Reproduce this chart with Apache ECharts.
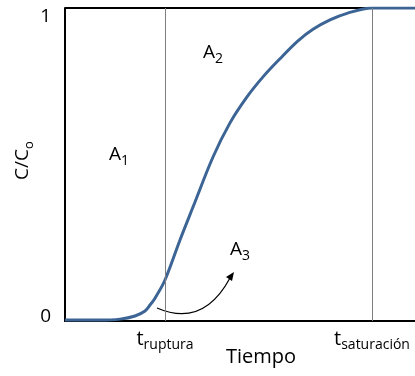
<!DOCTYPE html>
<html>
<head>
<meta charset="utf-8">
<script src="https://cdn.jsdelivr.net/npm/echarts@6/dist/echarts.min.js"></script>
<style>html,body{margin:0;padding:0;background:#fff}#c{width:415px;height:376px}</style>
</head>
<body>
<div id="c"></div>
<script>
// Time (arbitrary units) and normalized concentration C/Co
var timeValues = [0, 35, 55, 70, 80, 85, 90, 100, 115, 128, 148, 165, 182, 198, 215, 233, 248, 265, 282, 307, 350];
var concValues = [0.003, 0.003, 0.006, 0.016, 0.032, 0.051, 0.073, 0.131, 0.259, 0.364, 0.524, 0.633, 0.716, 0.780, 0.838, 0.895, 0.932, 0.962, 0.983, 1.0, 1.0];
var markTimes = [100, 307];                 // t_ruptura, t_saturación
var markLabels = [['t', 'ruptura'], ['t', 'saturación']];
var yTickLabels = ['0', '1'];
var xName = 'Tiempo';
var yName = ['C/C', 'o'];
var areaLabels = [['A', '1'], ['A', '2'], ['A', '3']];

var FONT = 'Open Sans';
var chart = echarts.init(document.getElementById('c'));
var seriesData = timeValues.map(function (t, i) { return [t, concValues[i]]; });

function subRich(main, sub, drop) {
  return {
    m: { fontSize: main, fontFamily: FONT, color: '#000', fill: '#000', verticalAlign: 'bottom', padding: [0, 0, drop, 0] },
    s: { fontSize: sub, fontFamily: FONT, color: '#000', fill: '#000', verticalAlign: 'bottom' }
  };
}

chart.setOption({
  animation: false,
  textStyle: { fontFamily: FONT },
  grid: { left: 65, top: 8, right: 0, bottom: 55 },
  xAxis: {
    type: 'value', min: 0, max: 350,
    axisLine: { lineStyle: { color: '#000', width: 2 } },
    axisTick: { show: false },
    splitLine: { show: false },
    axisLabel: {
      customValues: markTimes,
      margin: 8,
      formatter: function (v) {
        var i = markTimes.indexOf(v);
        return '{m|' + markLabels[i][0] + '}{s|' + markLabels[i][1] + '}';
      },
      rich: subRich(20, 14, 3)
    }
  },
  yAxis: {
    type: 'value', min: 0, max: 1, interval: 1,
    axisLine: { show: true, lineStyle: { color: '#000', width: 2 } },
    axisTick: { show: false },
    splitLine: { show: true, lineStyle: { color: '#000', width: 2 } },
    axisLabel: {
      margin: 14,
      formatter: function (v) { return v === 1 ? '{a|' + yTickLabels[1] + '}' : '{b|' + yTickLabels[0] + '}'; },
      rich: {
        a: { fontSize: 19, color: '#000', fontFamily: FONT, padding: [17, 0, 0, 0] },
        b: { fontSize: 19, color: '#000', fontFamily: FONT, padding: [0, 0, 9, 0] }
      }
    }
  },
  series: [{
    type: 'line',
    data: seriesData,
    smooth: 0.35,
    symbol: 'none',
    lineStyle: { color: '#3c6596', width: 3 },
    z: 3,
    markLine: {
      silent: true,
      symbol: 'none',
      label: { show: false },
      lineStyle: { color: '#7f7f7f', width: 1, type: 'solid' },
      data: markTimes.map(function (t) { return { xAxis: t }; })
    }
  }],
  graphic: [
    { type: 'text', left: 226, top: 347, style: { text: xName, font: '20px "' + FONT + '"', fill: '#000' } },
    { type: 'text', x: 13, y: 180, rotation: Math.PI / 2,
      style: { text: '{m|' + yName[0] + '}{s|' + yName[1] + '}', rich: subRich(19, 13, 4) } },
    { type: 'text', x: 109, y: 145, style: { text: '{m|' + areaLabels[0][0] + '}{s|' + areaLabels[0][1] + '}', rich: subRich(19, 14, 4) } },
    { type: 'text', x: 203, y: 43, style: { text: '{m|' + areaLabels[1][0] + '}{s|' + areaLabels[1][1] + '}', rich: subRich(19, 14, 4) } },
    { type: 'text', x: 230, y: 240, style: { text: '{m|' + areaLabels[2][0] + '}{s|' + areaLabels[2][1] + '}', rich: subRich(19, 14, 4) } },
    { type: 'bezierCurve', shape: { x1: 157, y1: 308, cpx1: 203, cpy1: 328, x2: 230, y2: 278 },
      style: { stroke: '#000', lineWidth: 1.2, fill: null } },
    { type: 'polygon', shape: { points: [[234, 272], [226, 277], [232, 281]] }, style: { fill: '#000' } }
  ]
});
</script>
</body>
</html>
